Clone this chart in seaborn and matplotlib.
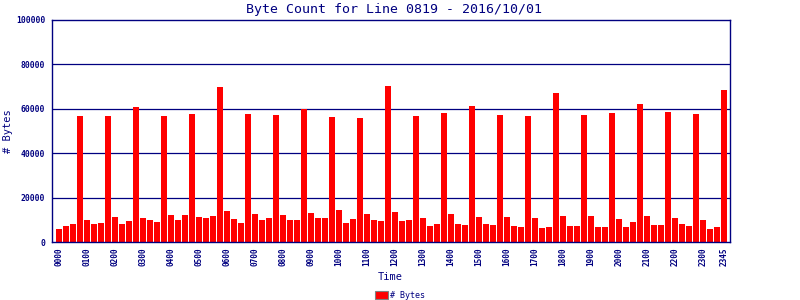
import matplotlib
matplotlib.use("Agg")
import matplotlib.pyplot as plt
import seaborn as sns
import pandas as pd
from matplotlib.patches import Patch

# 15-minute intervals for the day
times = [f"{h:02d}{m:02d}" for h in range(24) for m in (0, 15, 30, 45)]
byte_counts = [
    6000, 7000, 8300, 56600, 10100, 8300, 8700, 56600,
    11400, 8300, 9600, 60600, 11000, 10100, 9200, 56600,
    12300, 10100, 12300, 57500, 11400, 11000, 11900, 69700,
    14100, 10500, 8700, 57500, 12800, 10100, 11000, 57000,
    12300, 10100, 10100, 60000, 13200, 11000, 11000, 56100,
    14600, 8700, 10500, 55700, 12800, 10100, 9600, 70100,
    13700, 9600, 10100, 56600, 11000, 7400, 8300, 57900,
    12800, 8300, 7800, 61100, 11400, 8300, 7800, 57000,
    11400, 7400, 6900, 56600, 11000, 6500, 6900, 66950,
    11900, 7400, 7400, 57000, 11900, 6900, 6900, 57900,
    10500, 6900, 9200, 62000, 11900, 7800, 7800, 58400,
    11000, 8300, 7400, 57500, 10100, 6000, 6900, 68300,
]
tick_labels = [f"{h:02d}00" for h in range(24)] + ["2345"]
tick_times = [f"{h:02d}00" for h in range(24)] + ["2345"]
y_ticks = [0, 20000, 40000, 60000, 80000, 100000]

title = "Byte Count for Line 0819 - 2016/10/01"
navy = "#000080"
red = "#FF0000"
mono = "DejaVu Sans Mono"

df = pd.DataFrame({"Time": times, "Bytes": byte_counts})

sns.set_style("white")
plt.rcParams["font.family"] = [mono]

fig = plt.figure(figsize=(8, 3), dpi=100)
ax = fig.add_axes([52 / 800, 1 - 242 / 300, (730 - 52) / 800, (242 - 20) / 300])

sns.barplot(data=df, x="Time", y="Bytes", order=times, color=red,
            saturation=1, width=0.86, ax=ax, edgecolor="none")

ax.set_xlim(-1.0, len(times) - 0.1)
ax.set_ylim(0, 100000)
ax.set_yticks(y_ticks)
ax.set_yticklabels([str(v) for v in y_ticks], fontsize=5.8, fontweight="bold",
                   color=navy, family=mono)
pos = [times.index(t) for t in tick_times]
ax.set_xticks(pos)
ax.set_xticklabels(tick_labels, rotation=90, fontsize=5.6, fontweight="bold",
                   color=navy, family=mono)
ax.tick_params(axis="both", length=0)
ax.tick_params(axis="x", pad=4)
ax.tick_params(axis="y", pad=5)
ax.set_xlabel("")
ax.set_ylabel("")

for v in y_ticks[1:-1]:
    ax.axhline(v, color=navy, lw=0.9, zorder=0)
ax.set_axisbelow(True)
for s in ax.spines.values():
    s.set_color(navy)
    s.set_linewidth(1.0)
    s.set_visible(True)

fig.text(394 / 800, 1 - 9 / 300, title, ha="center", va="center",
         fontsize=9.5, color=navy, family=mono)
fig.text(390 / 800, 1 - 277 / 300, "Time", ha="center", va="center",
         fontsize=7.5, color=navy, family=mono)
fig.text(8 / 800, 1 - 131 / 300, "# Bytes", ha="center", va="center",
         rotation=90, fontsize=7.5, color=navy, family=mono)

handle = Patch(facecolor=red, edgecolor="#808080", linewidth=0.8, label="# Bytes")
leg = fig.legend(handles=[handle], loc="center", bbox_to_anchor=(400 / 800, 1 - 295 / 300),
                 frameon=False, fontsize=6.0, handlelength=1.5, handleheight=1.1,
                 handletextpad=0.3, borderpad=0, borderaxespad=0)
for t in leg.get_texts():
    t.set_color(navy)

fig.savefig("out.png", dpi=100)
